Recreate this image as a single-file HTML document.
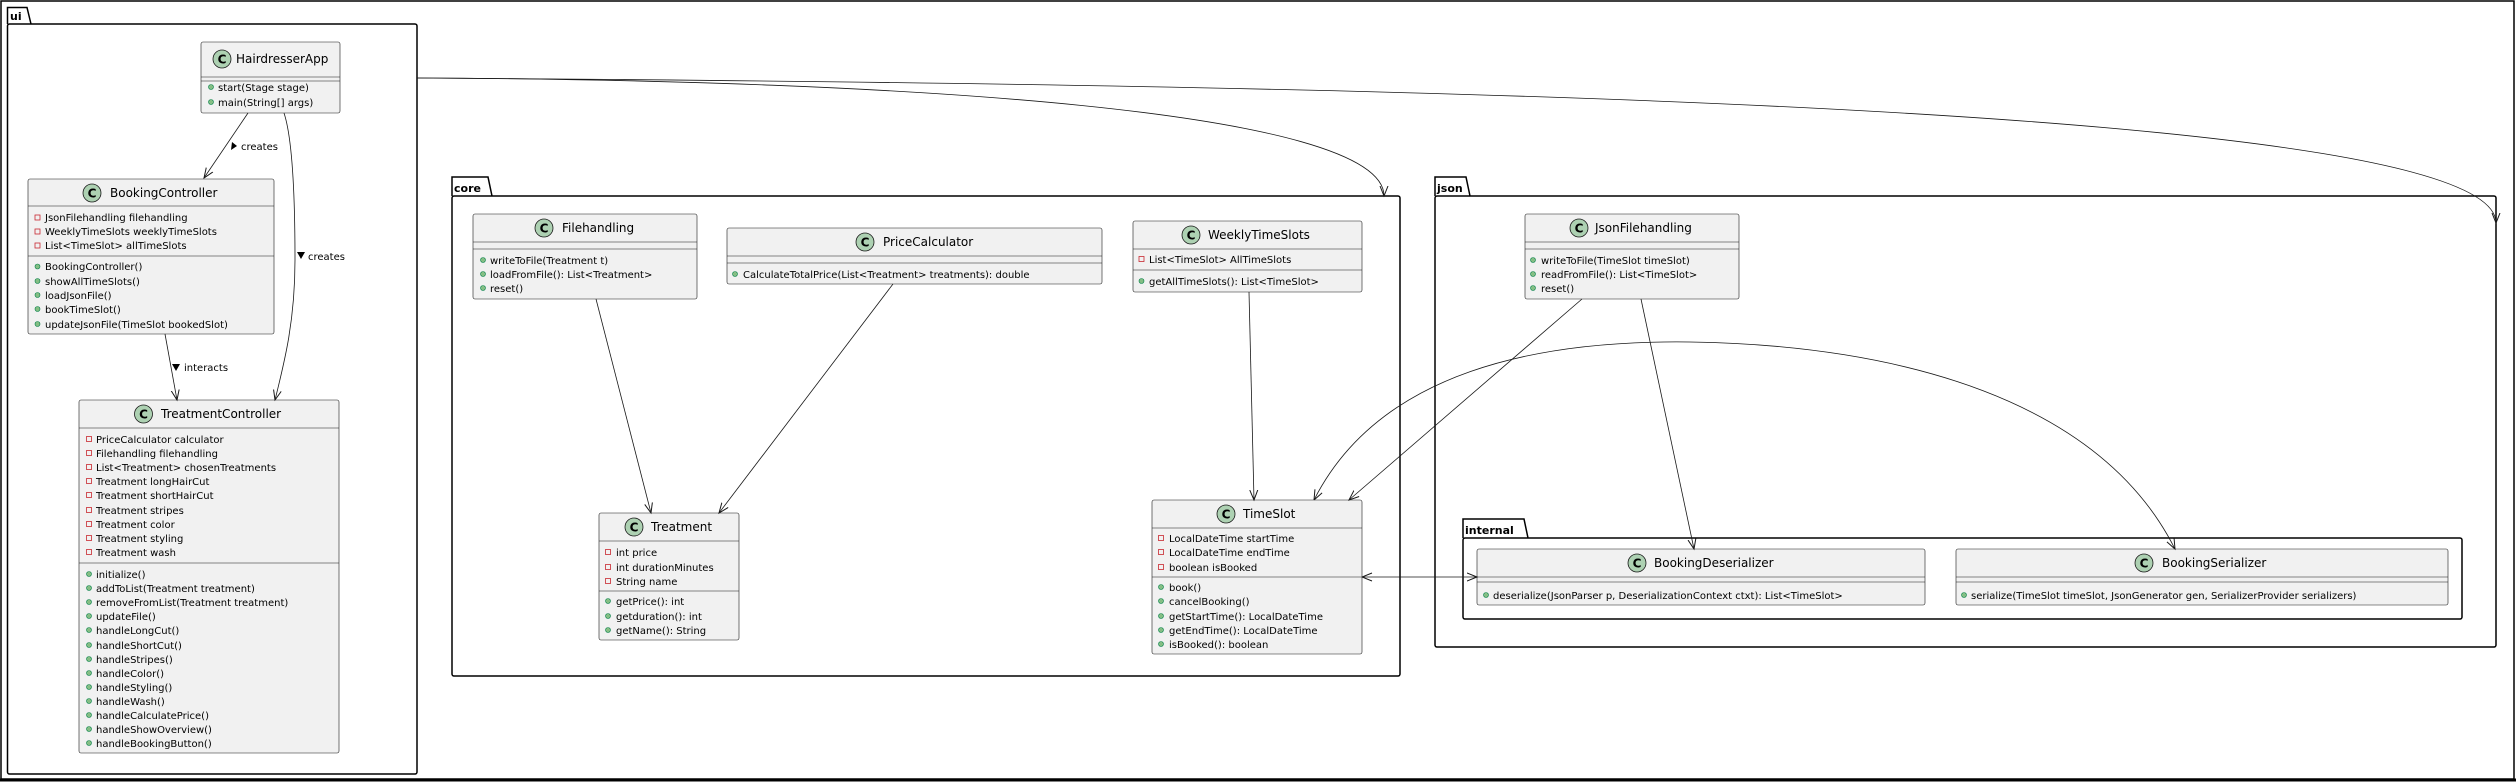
<!DOCTYPE html>
<html><head><meta charset="utf-8"><style>
html,body{margin:0;padding:0;background:#fff;}
svg{display:block;}
text{font-family:"DejaVu Sans","Liberation Sans",sans-serif;font-size:10px;fill:#000;}
.n{font-size:12px;}
.p{font-size:11px;font-weight:bold;}
.cls{fill:#F1F1F1;stroke:#181818;stroke-width:0.6;}
.sep{stroke:#181818;stroke-width:0.6;}
.pk{fill:none;stroke:#000;stroke-width:1.5;}
.ci{fill:#ADD1B2;stroke:#181818;stroke-width:0.8;}
.ct{font-size:12px;font-weight:bold;text-anchor:middle;}
.pub{fill:#84BE84;stroke:#038048;stroke-width:0.6;}
.pri{fill:none;stroke:#C82930;stroke-width:0.8;}
.ln{fill:none;stroke:#181818;stroke-width:0.8;}
</style></head><body>
<svg width="2516" height="782" viewBox="0 0 2516 782" xmlns="http://www.w3.org/2000/svg">
<defs>
<marker id="a" markerWidth="12" markerHeight="12" refX="10" refY="5" orient="auto" markerUnits="userSpaceOnUse">
<path d="M0,1 L10,5 L0,9" fill="none" stroke="#181818" stroke-width="1"/></marker>
<marker id="s" markerWidth="12" markerHeight="12" refX="0" refY="5" orient="auto" markerUnits="userSpaceOnUse">
<path d="M10,1 L0,5 L10,9" fill="none" stroke="#181818" stroke-width="1"/></marker>
</defs>
<rect x="1" y="1" width="2513" height="778" fill="none" stroke="#000" stroke-width="1.5"/>
<line x1="0" y1="780" x2="2516" y2="780" stroke="#000" stroke-width="3"/>

<path class="pk" d="M7.5,24 L7.5,7.5 L27,7.5 L31,24"/><rect class="pk" x="7.5" y="24" width="409.5" height="750" rx="2"/><text class="p" x="10" y="20">ui</text>
<path class="pk" d="M452,196 L452,177 L488,177 L492,196"/><rect class="pk" x="452" y="196" width="948" height="480" rx="2"/><text class="p" x="454" y="192">core</text>
<path class="pk" d="M1435,196 L1435,177 L1466,177 L1470,196"/><rect class="pk" x="1435" y="196" width="1061" height="451" rx="2"/><text class="p" x="1437" y="192">json</text>
<path class="pk" d="M1463,538 L1463,519 L1524,519 L1528,538"/><rect class="pk" x="1463" y="538" width="999" height="81" rx="2"/><text class="p" x="1465" y="534">internal</text>

<rect class="cls" x="201" y="42" width="139" height="71" rx="2"/>
<line class="sep" x1="201" y1="77" x2="340" y2="77"/><line class="sep" x1="201" y1="81" x2="340" y2="81"/>
<circle class="ci" cx="222" cy="59" r="9"/><text class="ct" x="222" y="63.5">C</text><text class="n" x="236" y="63">HairdresserApp</text>
<circle class="pub" cx="211" cy="87" r="2.5"/><text x="218" y="91">start(Stage stage)</text>
<circle class="pub" cx="211" cy="102" r="2.5"/><text x="218" y="106">main(String[] args)</text>

<rect class="cls" x="28" y="179" width="246" height="155" rx="2"/>
<line class="sep" x1="28" y1="206" x2="274" y2="206"/><line class="sep" x1="28" y1="256" x2="274" y2="256"/>
<circle class="ci" cx="92" cy="193" r="9"/><text class="ct" x="92" y="197.5">C</text><text class="n" x="110" y="197">BookingController</text>
<rect class="pri" x="35" y="215" width="5" height="5"/><text x="45" y="221">JsonFilehandling filehandling</text>
<rect class="pri" x="35" y="229" width="5" height="5"/><text x="45" y="235">WeeklyTimeSlots weeklyTimeSlots</text>
<rect class="pri" x="35" y="243" width="5" height="5"/><text x="45" y="249">List&lt;TimeSlot&gt; allTimeSlots</text>
<circle class="pub" cx="37.5" cy="266.5" r="2.5"/><text x="45" y="270">BookingController()</text>
<circle class="pub" cx="37.5" cy="281" r="2.5"/><text x="45" y="285">showAllTimeSlots()</text>
<circle class="pub" cx="37.5" cy="295" r="2.5"/><text x="45" y="299">loadJsonFile()</text>
<circle class="pub" cx="37.5" cy="309" r="2.5"/><text x="45" y="313">bookTimeSlot()</text>
<circle class="pub" cx="37.5" cy="324" r="2.5"/><text x="45" y="328">updateJsonFile(TimeSlot bookedSlot)</text>

<rect class="cls" x="79" y="400" width="260" height="353" rx="2"/>
<line class="sep" x1="79" y1="428" x2="339" y2="428"/><line class="sep" x1="79" y1="563" x2="339" y2="563"/>
<circle class="ci" cx="143.5" cy="414" r="9"/><text class="ct" x="143.5" y="418.5">C</text><text class="n" x="161" y="418">TreatmentController</text>
<rect class="pri" x="86.5" y="436.5" width="5" height="5"/><text x="96" y="443">PriceCalculator calculator</text>
<rect class="pri" x="86.5" y="450.5" width="5" height="5"/><text x="96" y="457">Filehandling filehandling</text>
<rect class="pri" x="86.5" y="464.5" width="5" height="5"/><text x="96" y="471">List&lt;Treatment&gt; chosenTreatments</text>
<rect class="pri" x="86.5" y="478.5" width="5" height="5"/><text x="96" y="485">Treatment longHairCut</text>
<rect class="pri" x="86.5" y="492.5" width="5" height="5"/><text x="96" y="499">Treatment shortHairCut</text>
<rect class="pri" x="86.5" y="507.5" width="5" height="5"/><text x="96" y="514">Treatment stripes</text>
<rect class="pri" x="86.5" y="521.5" width="5" height="5"/><text x="96" y="528">Treatment color</text>
<rect class="pri" x="86.5" y="535.5" width="5" height="5"/><text x="96" y="542">Treatment styling</text>
<rect class="pri" x="86.5" y="549.5" width="5" height="5"/><text x="96" y="556">Treatment wash</text>
<circle class="pub" cx="89" cy="574" r="2.5"/><text x="96" y="578">initialize()</text>
<circle class="pub" cx="89" cy="588" r="2.5"/><text x="96" y="592">addToList(Treatment treatment)</text>
<circle class="pub" cx="89" cy="602" r="2.5"/><text x="96" y="606">removeFromList(Treatment treatment)</text>
<circle class="pub" cx="89" cy="616" r="2.5"/><text x="96" y="620">updateFile()</text>
<circle class="pub" cx="89" cy="630" r="2.5"/><text x="96" y="634">handleLongCut()</text>
<circle class="pub" cx="89" cy="645" r="2.5"/><text x="96" y="649">handleShortCut()</text>
<circle class="pub" cx="89" cy="659" r="2.5"/><text x="96" y="663">handleStripes()</text>
<circle class="pub" cx="89" cy="673" r="2.5"/><text x="96" y="677">handleColor()</text>
<circle class="pub" cx="89" cy="687" r="2.5"/><text x="96" y="691">handleStyling()</text>
<circle class="pub" cx="89" cy="701" r="2.5"/><text x="96" y="705">handleWash()</text>
<circle class="pub" cx="89" cy="715" r="2.5"/><text x="96" y="719">handleCalculatePrice()</text>
<circle class="pub" cx="89" cy="729" r="2.5"/><text x="96" y="733">handleShowOverview()</text>
<circle class="pub" cx="89" cy="743" r="2.5"/><text x="96" y="747">handleBookingButton()</text>

<rect class="cls" x="473" y="214" width="224" height="85" rx="2"/>
<line class="sep" x1="473" y1="242" x2="697" y2="242"/><line class="sep" x1="473" y1="249" x2="697" y2="249"/>
<circle class="ci" cx="544" cy="228" r="9"/><text class="ct" x="544" y="232.5">C</text><text class="n" x="562" y="232">Filehandling</text>
<circle class="pub" cx="483" cy="260" r="2.5"/><text x="490" y="264">writeToFile(Treatment t)</text>
<circle class="pub" cx="483" cy="274" r="2.5"/><text x="490" y="278">loadFromFile(): List&lt;Treatment&gt;</text>
<circle class="pub" cx="483" cy="288" r="2.5"/><text x="490" y="292">reset()</text>

<rect class="cls" x="727" y="228" width="375" height="56" rx="2"/>
<line class="sep" x1="727" y1="256" x2="1102" y2="256"/><line class="sep" x1="727" y1="263" x2="1102" y2="263"/>
<circle class="ci" cx="865" cy="242" r="9"/><text class="ct" x="865" y="246.5">C</text><text class="n" x="883" y="246">PriceCalculator</text>
<circle class="pub" cx="735" cy="274" r="2.5"/><text x="743" y="278">CalculateTotalPrice(List&lt;Treatment&gt; treatments): double</text>

<rect class="cls" x="1133" y="221" width="229" height="71" rx="2"/>
<line class="sep" x1="1133" y1="249" x2="1362" y2="249"/><line class="sep" x1="1133" y1="270" x2="1362" y2="270"/>
<circle class="ci" cx="1191" cy="235" r="9"/><text class="ct" x="1191" y="239.5">C</text><text class="n" x="1208" y="239">WeeklyTimeSlots</text>
<rect class="pri" x="1139" y="256.5" width="5" height="5"/><text x="1149" y="263">List&lt;TimeSlot&gt; AllTimeSlots</text>
<circle class="pub" cx="1141.5" cy="281" r="2.5"/><text x="1149" y="285">getAllTimeSlots(): List&lt;TimeSlot&gt;</text>

<rect class="cls" x="599" y="513" width="140" height="127" rx="2"/>
<line class="sep" x1="599" y1="541" x2="739" y2="541"/><line class="sep" x1="599" y1="591" x2="739" y2="591"/>
<circle class="ci" cx="634" cy="527" r="9"/><text class="ct" x="634" y="531.5">C</text><text class="n" x="651" y="531">Treatment</text>
<rect class="pri" x="605.5" y="549.5" width="5" height="5"/><text x="616" y="556">int price</text>
<rect class="pri" x="605.5" y="564.5" width="5" height="5"/><text x="616" y="571">int durationMinutes</text>
<rect class="pri" x="605.5" y="578.5" width="5" height="5"/><text x="616" y="585">String name</text>
<circle class="pub" cx="608" cy="601" r="2.5"/><text x="616" y="605">getPrice(): int</text>
<circle class="pub" cx="608" cy="616" r="2.5"/><text x="616" y="620">getduration(): int</text>
<circle class="pub" cx="608" cy="630" r="2.5"/><text x="616" y="634">getName(): String</text>

<rect class="cls" x="1152" y="500" width="210" height="154" rx="2"/>
<line class="sep" x1="1152" y1="528" x2="1362" y2="528"/><line class="sep" x1="1152" y1="577" x2="1362" y2="577"/>
<circle class="ci" cx="1226" cy="514" r="9"/><text class="ct" x="1226" y="518.5">C</text><text class="n" x="1243" y="518">TimeSlot</text>
<rect class="pri" x="1158.5" y="535.5" width="5" height="5"/><text x="1169" y="542">LocalDateTime startTime</text>
<rect class="pri" x="1158.5" y="549.5" width="5" height="5"/><text x="1169" y="556">LocalDateTime endTime</text>
<rect class="pri" x="1158.5" y="564.5" width="5" height="5"/><text x="1169" y="571">boolean isBooked</text>
<circle class="pub" cx="1161" cy="587" r="2.5"/><text x="1169" y="591">book()</text>
<circle class="pub" cx="1161" cy="601" r="2.5"/><text x="1169" y="605">cancelBooking()</text>
<circle class="pub" cx="1161" cy="616" r="2.5"/><text x="1169" y="620">getStartTime(): LocalDateTime</text>
<circle class="pub" cx="1161" cy="630" r="2.5"/><text x="1169" y="634">getEndTime(): LocalDateTime</text>
<circle class="pub" cx="1161" cy="644" r="2.5"/><text x="1169" y="648">isBooked(): boolean</text>

<rect class="cls" x="1525" y="214" width="214" height="85" rx="2"/>
<line class="sep" x1="1525" y1="242" x2="1739" y2="242"/><line class="sep" x1="1525" y1="249" x2="1739" y2="249"/>
<circle class="ci" cx="1579" cy="228" r="9"/><text class="ct" x="1579" y="232.5">C</text><text class="n" x="1595" y="232">JsonFilehandling</text>
<circle class="pub" cx="1533" cy="260" r="2.5"/><text x="1541" y="264">writeToFile(TimeSlot timeSlot)</text>
<circle class="pub" cx="1533" cy="274" r="2.5"/><text x="1541" y="278">readFromFile(): List&lt;TimeSlot&gt;</text>
<circle class="pub" cx="1533" cy="288" r="2.5"/><text x="1541" y="292">reset()</text>

<rect class="cls" x="1477" y="549" width="448" height="56" rx="2"/>
<line class="sep" x1="1477" y1="577" x2="1925" y2="577"/><line class="sep" x1="1477" y1="582" x2="1925" y2="582"/>
<circle class="ci" cx="1637" cy="563" r="9"/><text class="ct" x="1637" y="567.5">C</text><text class="n" x="1654" y="567">BookingDeserializer</text>
<circle class="pub" cx="1486" cy="595" r="2.5"/><text x="1493" y="599">deserialize(JsonParser p, DeserializationContext ctxt): List&lt;TimeSlot&gt;</text>

<rect class="cls" x="1956" y="549" width="492" height="56" rx="2"/>
<line class="sep" x1="1956" y1="577" x2="2448" y2="577"/><line class="sep" x1="1956" y1="582" x2="2448" y2="582"/>
<circle class="ci" cx="2144" cy="563" r="9"/><text class="ct" x="2144" y="567.5">C</text><text class="n" x="2162" y="567">BookingSerializer</text>
<circle class="pub" cx="1964" cy="595" r="2.5"/><text x="1971" y="599">serialize(TimeSlot timeSlot, JsonGenerator gen, SerializerProvider serializers)</text>

<path class="ln" d="M248,113 L204,178" marker-end="url(#a)"/>
<path d="M232,142 L237,146 L231,150 Z" fill="#000"/><text x="241" y="150">creates</text>
<path class="ln" d="M284,113 C293,140 295,200 295,260 C295,320 285,360 275,400" marker-end="url(#a)"/>
<path d="M297,252 L305,252 L301,259 Z" fill="#000"/><text x="308" y="260">creates</text>
<path class="ln" d="M165,334 L177,400" marker-end="url(#a)"/>
<path d="M172,364 L180,364 L176,371 Z" fill="#000"/><text x="184" y="371">interacts</text>

<path class="ln" d="M417,78 C900,80 1384,110 1384,196" marker-end="url(#a)"/>
<path class="ln" d="M417,78 C1500,85 2496,110 2496,223" marker-end="url(#a)"/>

<path class="ln" d="M596,299 L651,513" marker-end="url(#a)"/>
<path class="ln" d="M893,284 L719,513" marker-end="url(#a)"/>
<path class="ln" d="M1249,292 L1254,500" marker-end="url(#a)"/>
<path class="ln" d="M1582,299 L1349,500" marker-end="url(#a)"/>
<path class="ln" d="M1641,299 L1694,549" marker-end="url(#a)"/>
<path class="ln" d="M1314,500 C1380,370 1540,340 1690,342 C1900,345 2100,400 2175,549" marker-start="url(#s)" marker-end="url(#a)"/>
<path class="ln" d="M1362,577 L1477,577" marker-start="url(#s)" marker-end="url(#a)"/>
</svg>
</body></html>
